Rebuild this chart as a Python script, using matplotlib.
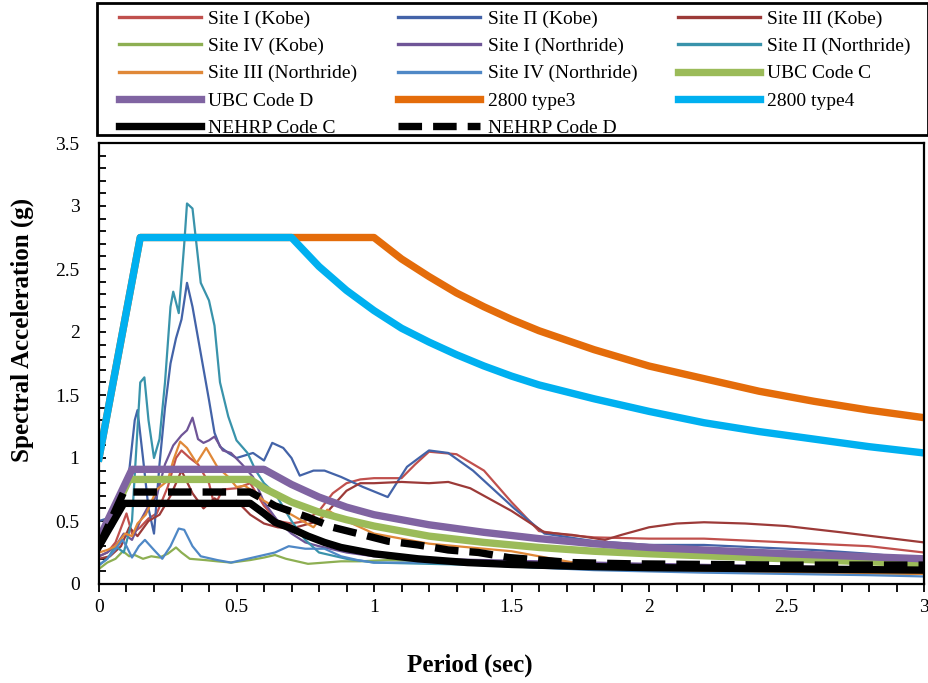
import numpy as np
import matplotlib.pyplot as plt
from matplotlib.patches import Rectangle
from matplotlib.ticker import MultipleLocator, FuncFormatter

plt.rcParams['font.family'] = ['Liberation Serif', 'DejaVu Serif']

# recorded response spectra (period in sec, Sa in g)
t_kobe1 = [0, 0.03, 0.06, 0.1, 0.12, 0.15, 0.18, 0.21, 0.25, 0.28, 0.3, 0.33, 0.36, 0.4, 0.42,
           0.45, 0.5, 0.55, 0.6, 0.65, 0.7, 0.75, 0.8, 0.85, 0.9, 0.95, 1.0, 1.1, 1.15, 1.2, 1.3,
           1.4, 1.5, 1.6, 1.7, 1.8, 2.0, 2.2, 2.4, 2.6, 2.8, 3.0]
sa_kobe1 = [0.22, 0.25, 0.33, 0.56, 0.4, 0.45, 0.52, 0.56, 0.77, 1.0, 1.06, 1.0, 0.95, 0.8, 0.62,
            0.75, 0.76, 0.8, 0.62, 0.5, 0.48, 0.5, 0.58, 0.72, 0.8, 0.83, 0.84, 0.84, 0.95, 1.05, 1.03,
            0.9, 0.65, 0.42, 0.39, 0.37, 0.36, 0.36, 0.34, 0.32, 0.3, 0.25]

t_kobe2 = [0, 0.03, 0.05, 0.08, 0.11, 0.13, 0.14, 0.16, 0.18, 0.2, 0.22, 0.24, 0.26, 0.28, 0.3,
           0.32, 0.34, 0.37, 0.4, 0.42, 0.44, 0.47, 0.5, 0.53, 0.56, 0.6, 0.63, 0.67, 0.7, 0.73,
           0.78, 0.82, 0.88, 0.96, 1.05, 1.12, 1.2, 1.27, 1.36, 1.51, 1.62, 1.8, 2.0, 2.2, 2.4,
           2.6, 2.8, 3.0]
sa_kobe2 = [0.5, 0.52, 0.45, 0.6, 0.9, 1.3, 1.38, 1.0, 0.6, 0.4, 0.95, 1.4, 1.75, 1.95, 2.1,
            2.39, 2.2, 1.83, 1.46, 1.2, 1.09, 1.04, 1.0, 1.02, 1.04, 0.98, 1.12, 1.08, 1.0, 0.86,
            0.9, 0.9, 0.85, 0.77, 0.69, 0.93, 1.06, 1.04, 0.9, 0.6, 0.4, 0.34, 0.31, 0.31, 0.29,
            0.27, 0.24, 0.2]

t_kobe3 = [0, 0.04, 0.08, 0.11, 0.14, 0.18, 0.22, 0.26, 0.3, 0.34, 0.38, 0.42, 0.46, 0.5, 0.55,
           0.6, 0.65, 0.7, 0.75, 0.8, 0.85, 0.9, 0.95, 1.0, 1.1, 1.2, 1.27, 1.35, 1.5, 1.62, 1.72,
           1.84, 1.9, 2.0, 2.1, 2.2, 2.35, 2.5, 2.7, 3.0]
sa_kobe3 = [0.2, 0.22, 0.3, 0.45, 0.38, 0.5, 0.55, 0.7, 0.9, 0.72, 0.6, 0.68, 0.62, 0.66, 0.55,
            0.48, 0.45, 0.44, 0.47, 0.5, 0.62, 0.74, 0.8, 0.8, 0.81, 0.8, 0.81, 0.76, 0.58, 0.41,
            0.39, 0.35, 0.39, 0.45, 0.48, 0.49, 0.48, 0.46, 0.41, 0.33]

t_kobe4 = [0, 0.03, 0.06, 0.087, 0.11, 0.13, 0.16, 0.19, 0.22, 0.25, 0.28, 0.3, 0.33, 0.385,
           0.43, 0.48, 0.55, 0.6, 0.64, 0.68, 0.72, 0.76, 0.82, 0.88, 0.95, 1.05, 1.2, 1.4, 1.6,
           1.8, 2.0, 2.5, 3.0]
sa_kobe4 = [0.12, 0.17, 0.2, 0.26, 0.22, 0.23, 0.2, 0.22, 0.21, 0.24, 0.29, 0.25, 0.2, 0.19,
            0.18, 0.17, 0.19, 0.21, 0.23, 0.2, 0.18, 0.16, 0.17, 0.18, 0.18, 0.19, 0.18, 0.17,
            0.15, 0.13, 0.12, 0.1, 0.08]

t_north1 = [0, 0.03, 0.06, 0.09, 0.12, 0.15, 0.18, 0.21, 0.24, 0.27, 0.3, 0.32, 0.34, 0.36,
            0.38, 0.4, 0.42, 0.45, 0.48, 0.52, 0.56, 0.6, 0.65, 0.7, 0.75, 0.8, 0.9, 1.0, 1.2,
            1.4, 1.6, 1.8, 2.0, 2.5, 3.0]
sa_north1 = [0.22, 0.25, 0.3, 0.4, 0.35, 0.5, 0.62, 0.7, 0.95, 1.1, 1.18, 1.22, 1.32, 1.15,
             1.12, 1.14, 1.17, 1.06, 1.04, 0.95, 0.85, 0.65, 0.5, 0.4, 0.33, 0.3, 0.25, 0.22,
             0.2, 0.19, 0.18, 0.17, 0.16, 0.14, 0.12]

t_north2 = [0, 0.03, 0.06, 0.09, 0.12, 0.15, 0.165, 0.18, 0.2, 0.22, 0.24, 0.26, 0.27, 0.29,
            0.31, 0.32, 0.34, 0.37, 0.4, 0.42, 0.44, 0.47, 0.5, 0.54, 0.57, 0.6, 0.64, 0.7, 0.75,
            0.8, 0.9, 1.0, 1.2, 1.4, 1.6, 1.8, 2.0, 2.5, 3.0]
sa_north2 = [0.15, 0.2, 0.3, 0.25, 0.5, 1.6, 1.64, 1.3, 1.0, 1.15, 1.6, 2.2, 2.32, 2.15, 2.7,
             3.02, 2.98, 2.39, 2.25, 2.05, 1.6, 1.33, 1.14, 1.04, 0.9, 0.8, 0.72, 0.5, 0.35,
             0.25, 0.2, 0.17, 0.16, 0.15, 0.13, 0.12, 0.11, 0.1, 0.08]

t_north3 = [0, 0.03, 0.06, 0.095, 0.12, 0.14, 0.17, 0.21, 0.25, 0.27, 0.295, 0.32, 0.355, 0.39,
            0.43, 0.47, 0.5, 0.53, 0.57, 0.6, 0.65, 0.7, 0.74, 0.78, 0.83, 0.88, 0.95, 1.0, 1.1,
            1.2, 1.3, 1.4, 1.5, 1.6, 1.7, 1.8, 2.0, 2.5, 3.0]
sa_north3 = [0.25, 0.27, 0.3, 0.4, 0.38, 0.48, 0.55, 0.75, 0.82, 0.98, 1.13, 1.08, 0.96, 1.08,
             0.93, 0.85, 0.77, 0.78, 0.72, 0.66, 0.6, 0.55, 0.5, 0.45, 0.59, 0.52, 0.45, 0.4,
             0.36, 0.32, 0.3, 0.28, 0.26, 0.22, 0.18, 0.14, 0.11, 0.09, 0.08]

t_north4 = [0, 0.03, 0.058, 0.085, 0.1, 0.12, 0.145, 0.167, 0.2, 0.23, 0.26, 0.29, 0.31, 0.34,
            0.37, 0.43, 0.48, 0.52, 0.56, 0.6, 0.64, 0.69, 0.75, 0.82, 0.88, 0.94, 1.0, 1.1, 1.2,
            1.3, 1.4, 1.5, 1.6, 1.8, 2.0, 2.2, 2.5, 2.8, 3.0]
sa_north4 = [0.15, 0.2, 0.27, 0.35, 0.3, 0.21, 0.3, 0.35, 0.27, 0.2, 0.3, 0.44, 0.43, 0.3, 0.22,
             0.19, 0.17, 0.19, 0.21, 0.23, 0.25, 0.3, 0.28, 0.28, 0.22, 0.19, 0.17, 0.17, 0.17,
             0.16, 0.15, 0.14, 0.13, 0.11, 0.1, 0.09, 0.08, 0.07, 0.06]

# design code spectra
t_ubc_c = [0, 0.11, 0.55, 0.6, 0.7, 0.8, 0.9, 1.0, 1.2, 1.4, 1.6, 1.8, 2.0, 2.5, 3.0]
sa_ubc_c = [0.33, 0.83, 0.83, 0.76, 0.65, 0.57, 0.51, 0.46, 0.38, 0.33, 0.29, 0.26, 0.24, 0.2, 0.16]

t_ubc_d = [0, 0.12, 0.6, 0.7, 0.8, 0.9, 1.0, 1.2, 1.4, 1.6, 1.8, 2.0, 2.5, 3.0]
sa_ubc_d = [0.36, 0.91, 0.91, 0.79, 0.69, 0.61, 0.55, 0.47, 0.41, 0.36, 0.32, 0.29, 0.24, 0.2]

t_2800_3 = [0, 0.15, 1.0, 1.1, 1.2, 1.3, 1.4, 1.5, 1.6, 1.8, 2.0, 2.2, 2.4, 2.6, 2.8, 3.0]
sa_2800_3 = [1.0, 2.75, 2.75, 2.58, 2.44, 2.31, 2.2, 2.1, 2.01, 1.86, 1.73, 1.63, 1.53, 1.45,
             1.38, 1.32]

t_2800_4 = [0, 0.15, 0.7, 0.8, 0.9, 1.0, 1.1, 1.2, 1.3, 1.4, 1.5, 1.6, 1.8, 2.0, 2.2, 2.4, 2.6,
            2.8, 3.0]
sa_2800_4 = [1.0, 2.75, 2.75, 2.52, 2.33, 2.17, 2.03, 1.92, 1.82, 1.73, 1.65, 1.58, 1.47, 1.37,
             1.28, 1.21, 1.15, 1.09, 1.04]

t_nehrp_c = [0, 0.09, 0.55, 0.6, 0.64, 0.7, 0.76, 0.82, 0.88, 1.0, 1.16, 1.34, 1.5, 1.75, 2.0,
             2.5, 3.0]
sa_nehrp_c = [0.3, 0.64, 0.64, 0.56, 0.49, 0.44, 0.38, 0.33, 0.29, 0.24, 0.2, 0.17, 0.155,
              0.14, 0.13, 0.12, 0.11]

t_nehrp_d = [0, 0.09, 0.55, 0.6, 0.64, 0.76, 0.85, 0.96, 1.05, 1.16, 1.27, 1.38, 1.49, 1.72,
             1.94, 2.5, 3.0]
sa_nehrp_d = [0.3, 0.73, 0.73, 0.67, 0.62, 0.53, 0.45, 0.39, 0.34, 0.31, 0.27, 0.25, 0.21, 0.17,
              0.16, 0.15, 0.15]

fig = plt.figure(figsize=(9.29, 6.83), dpi=100)
ax = fig.add_axes([99 / 929, 1 - 584 / 683, 825 / 929, 441 / 683])

thin = 1.6
thick = 5.3
ax.plot(t_kobe1, sa_kobe1, color='#C0504D', lw=thin, label='Site I (Kobe)')
ax.plot(t_kobe2, sa_kobe2, color='#4363A8', lw=thin, label='Site \u03a0 (Kobe)')
ax.plot(t_kobe3, sa_kobe3, color='#9C3A38', lw=thin, label='Site III (Kobe)')
ax.plot(t_kobe4, sa_kobe4, color='#8DAF52', lw=thin, label='Site IV (Kobe)')
ax.plot(t_north1, sa_north1, color='#6F5597', lw=thin, label='Site I (Northride)')
ax.plot(t_north2, sa_north2, color='#3993AB', lw=thin, label='Site \u03a0 (Northride)')
ax.plot(t_north3, sa_north3, color='#E08838', lw=thin, label='Site III (Northride)')
ax.plot(t_north4, sa_north4, color='#4F88C6', lw=thin, label='Site IV (Northride)')
ax.plot(t_ubc_c, sa_ubc_c, color='#9BBB59', lw=thick, label='UBC Code C')
ax.plot(t_ubc_d, sa_ubc_d, color='#8064A2', lw=thick, label='UBC Code D')
ax.plot(t_2800_3, sa_2800_3, color='#E46C0A', lw=thick, label='2800 type3')
ax.plot(t_2800_4, sa_2800_4, color='#00B0F0', lw=thick, label='2800 type4')
ax.plot(t_nehrp_c, sa_nehrp_c, color='black', lw=thick, label='NEHRP Code C')
ax.plot(t_nehrp_d, sa_nehrp_d, color='black', lw=thick, ls=(0, (3.2, 1.5)),
        label='NEHRP Code D')

ax.set_xlim(0, 3)
ax.set_ylim(0, 3.5)
ax.xaxis.set_major_locator(MultipleLocator(0.5))
ax.xaxis.set_minor_locator(MultipleLocator(0.1))
ax.yaxis.set_major_locator(MultipleLocator(0.5))
ax.yaxis.set_minor_locator(MultipleLocator(0.1))
fmt = FuncFormatter(lambda v, p: '%g' % v)
ax.xaxis.set_major_formatter(fmt)
ax.yaxis.set_major_formatter(fmt)
ax.tick_params(axis='x', which='both', direction='out', length=6, width=1.3,
               labelsize=14, pad=5)
ax.tick_params(axis='y', which='both', direction='in', length=5, width=1.3,
               labelsize=14, pad=14)
for s in ax.spines.values():
    s.set_linewidth(1.6)

fig.text(470 / 929, 1 - 665 / 683, 'Period (sec)', ha='center', va='center',
         fontsize=18, fontweight='bold')
fig.text(22 / 929, 1 - 330 / 683, 'Spectral Acceleration (g)', ha='center', va='center',
         rotation=90, fontsize=18, fontweight='bold')

# legend entries run across the rows, matplotlib fills columns first
handles, labels = ax.get_legend_handles_labels()
order = [0, 3, 6, 9, 12, 1, 4, 7, 10, 13, 2, 5, 8, 11]
leg = fig.legend([handles[i] for i in order], [labels[i] for i in order],
                 loc='upper left', bbox_to_anchor=(119 / 929, 1 - 10 / 683, 792 / 929, 0),
                 mode='expand', ncol=3, fontsize=14, handlelength=4.2,
                 handletextpad=0.4, labelspacing=0.5, borderpad=0, borderaxespad=0,
                 frameon=False)
for line in leg.get_lines():
    if line.get_linewidth() < 2:
        line.set_linewidth(2.4)

# box round the legend block
fig.patches.append(Rectangle((97 / 929, 1 - 135 / 683), 831 / 929, 132 / 683,
                             transform=fig.transFigure, fill=False,
                             edgecolor='black', linewidth=2))

fig.savefig('out.png', dpi=100)
